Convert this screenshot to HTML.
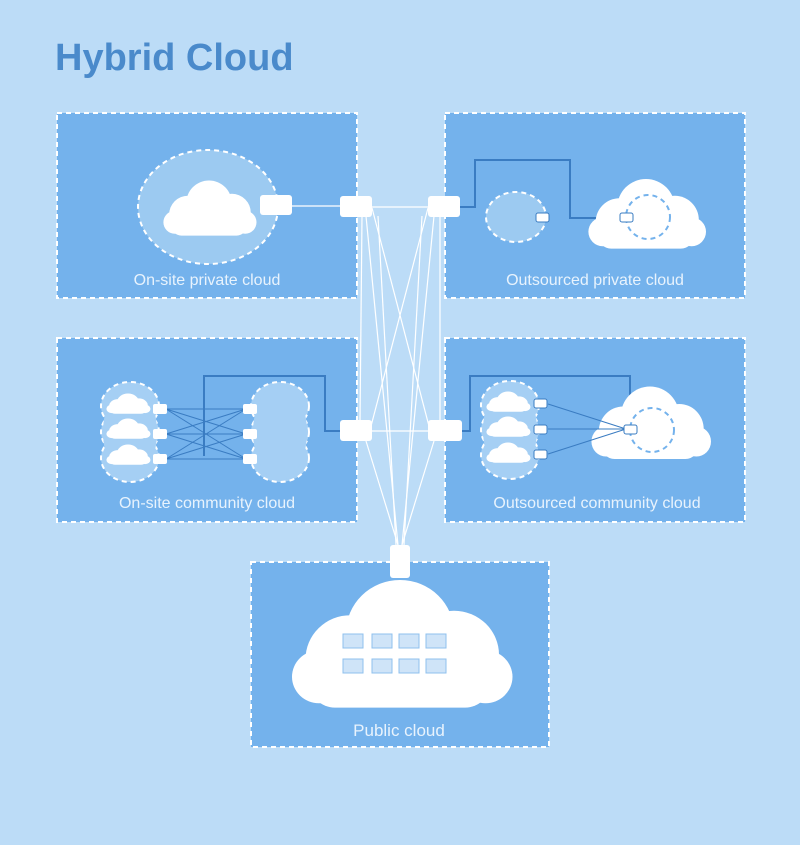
<!DOCTYPE html>
<html><head><meta charset="utf-8"><style>
html,body{margin:0;padding:0;background:#bcdcf7;}
svg{display:block}
text{font-family:"Liberation Sans",sans-serif;}
</style></head><body>
<svg width="800" height="845" viewBox="0 0 800 845" xmlns="http://www.w3.org/2000/svg">
<defs>
<g id="cl">
<circle cx="-22" cy="6" r="20"/><circle cx="0" cy="-6" r="24"/><circle cx="24" cy="4" r="20"/><circle cx="-36" cy="14" r="12"/><circle cx="38" cy="14" r="12"/><rect x="-40" y="6" width="80" height="22" rx="11"/>
</g>
</defs>
<rect width="800" height="845" fill="#bcdcf7"/>
<text x="55" y="70" font-size="38" font-weight="bold" fill="#4a8acb">Hybrid Cloud</text>
<g fill="#74b2ec" stroke="#fff" stroke-width="2" stroke-dasharray="5,4">
<rect x="57" y="113" width="300" height="185"/>
<rect x="445" y="113" width="300" height="185"/>
<rect x="57" y="338" width="300" height="184"/>
<rect x="445" y="338" width="300" height="184"/>
<rect x="251" y="562" width="298" height="185"/>
</g>
<g stroke="#fff" stroke-width="1.2" fill="none">
<line x1="292" y1="206" x2="340" y2="206"/>
<line x1="372" y1="207" x2="428" y2="207"/>
<line x1="372" y1="431" x2="428" y2="431"/>
<line x1="372" y1="208" x2="430" y2="430"/>
<line x1="428" y1="208" x2="370" y2="430"/>
<line x1="366" y1="216" x2="398" y2="545"/>
<line x1="434" y1="216" x2="402" y2="545"/>
<line x1="362" y1="216" x2="360" y2="421"/>
<line x1="440" y1="216" x2="440" y2="421"/>
<line x1="366" y1="441" x2="398" y2="545"/>
<line x1="434" y1="441" x2="402" y2="545"/>
<line x1="378" y1="216" x2="396" y2="545"/>
<line x1="422" y1="216" x2="404" y2="545"/>
</g>
<!-- P1 -->
<ellipse cx="208" cy="207" rx="70" ry="57" fill="#9ccaf1" stroke="#fff" stroke-width="2" stroke-dasharray="5,4"/>
<g fill="#fff" transform="translate(209,209) scale(0.95)"><use href="#cl"/></g>
<rect x="260" y="195" width="32" height="20" rx="3" fill="#fff"/>
<text x="207" y="285" font-size="16" fill="#e8f3fd" text-anchor="middle">On-site private cloud</text>
<!-- P2 -->
<path d="M460 207 H475 V160 H570 V218 H622" fill="none" stroke="#3a7cc2" stroke-width="2"/>
<ellipse cx="516" cy="217" rx="30" ry="25" fill="#9ccaf1" stroke="#fff" stroke-width="2" stroke-dasharray="5,4"/>
<g fill="#fff" transform="translate(646,215) scale(1.2,1.2)"><use href="#cl"/></g>
<circle cx="648" cy="217" r="22" fill="none" stroke="#74b2ec" stroke-width="2" stroke-dasharray="5,4"/>
<rect x="536" y="213" width="13" height="9" rx="2" fill="#fff" stroke="#3a7cc2"/>
<rect x="620" y="213" width="13" height="9" rx="2" fill="#fff" stroke="#3a7cc2"/>
<text x="595" y="285" font-size="16" fill="#e8f3fd" text-anchor="middle">Outsourced private cloud</text>
<!-- P3 -->
<path d="M204 456 V376 H325 V431 H340" fill="none" stroke="#3a7cc2" stroke-width="2"/>
<g fill="#a5cff4" stroke="#fff" stroke-width="2" stroke-dasharray="5,4">
<ellipse cx="130" cy="406" rx="29" ry="24"/><ellipse cx="130" cy="432" rx="29" ry="24"/><ellipse cx="130" cy="458" rx="29" ry="24"/>
<ellipse cx="280" cy="406" rx="29" ry="24"/><ellipse cx="280" cy="432" rx="29" ry="24"/><ellipse cx="280" cy="458" rx="29" ry="24"/>
</g>
<g fill="#a5cff4"><ellipse cx="130" cy="432" rx="27" ry="48"/><ellipse cx="280" cy="432" rx="27" ry="48"/></g>
<g fill="#fff"><g transform="translate(128,404) scale(0.45,0.35)"><use href="#cl"/></g><g transform="translate(128,429) scale(0.45,0.35)"><use href="#cl"/></g><g transform="translate(128,455) scale(0.45,0.35)"><use href="#cl"/></g></g>
<g stroke="#3a7cc2" stroke-width="1">
<line x1="166" y1="409" x2="246" y2="409"/><line x1="166" y1="409" x2="246" y2="434"/><line x1="166" y1="409" x2="246" y2="459"/>
<line x1="166" y1="434" x2="246" y2="409"/><line x1="166" y1="434" x2="246" y2="434"/><line x1="166" y1="434" x2="246" y2="459"/>
<line x1="166" y1="459" x2="246" y2="409"/><line x1="166" y1="459" x2="246" y2="434"/><line x1="166" y1="459" x2="246" y2="459"/>
</g>
<g fill="#fff"><rect x="153" y="404" width="14" height="10" rx="2"/><rect x="153" y="429" width="14" height="10" rx="2"/><rect x="153" y="454" width="14" height="10" rx="2"/>
<rect x="243" y="404" width="14" height="10" rx="2"/><rect x="243" y="429" width="14" height="10" rx="2"/><rect x="243" y="454" width="14" height="10" rx="2"/></g>
<text x="207" y="508" font-size="16" fill="#e8f3fd" text-anchor="middle">On-site community cloud</text>
<!-- P4 -->
<path d="M462 431 H470 V376 H630 V428" fill="none" stroke="#3a7cc2" stroke-width="2"/>
<g fill="#a5cff4" stroke="#fff" stroke-width="2" stroke-dasharray="5,4">
<ellipse cx="510" cy="405" rx="29" ry="24"/><ellipse cx="510" cy="430" rx="29" ry="24"/><ellipse cx="510" cy="455" rx="29" ry="24"/></g>
<ellipse cx="510" cy="430" rx="27" ry="47" fill="#a5cff4"/>
<g fill="#fff"><g transform="translate(508,402) scale(0.45,0.35)"><use href="#cl"/></g><g transform="translate(508,427) scale(0.45,0.35)"><use href="#cl"/></g><g transform="translate(508,453) scale(0.45,0.35)"><use href="#cl"/></g></g>
<g fill="#fff" transform="translate(650,424) scale(1.22,1.25)"><use href="#cl"/></g>
<circle cx="652" cy="430" r="22" fill="none" stroke="#74b2ec" stroke-width="2" stroke-dasharray="5,4"/>
<g stroke="#3a7cc2" stroke-width="1"><line x1="548" y1="404" x2="626" y2="429"/><line x1="548" y1="429" x2="626" y2="429"/><line x1="548" y1="454" x2="626" y2="429"/></g>
<g fill="#fff" stroke="#3a7cc2"><rect x="534" y="399" width="13" height="9" rx="2"/><rect x="534" y="425" width="13" height="9" rx="2"/><rect x="534" y="450" width="13" height="9" rx="2"/><rect x="624" y="425" width="13" height="9" rx="2"/></g>
<text x="597" y="508" font-size="16" fill="#e8f3fd" text-anchor="middle">Outsourced community cloud</text>
<!-- P5 -->
<g fill="#fff" transform="translate(400,646) scale(2.25,2.2)"><use href="#cl"/></g>
<g fill="#cfe4f8" stroke="#8fc0ee" stroke-width="1">
<rect x="343" y="634" width="20" height="14"/><rect x="372" y="634" width="20" height="14"/><rect x="399" y="634" width="20" height="14"/><rect x="426" y="634" width="20" height="14"/>
<rect x="343" y="659" width="20" height="14"/><rect x="372" y="659" width="20" height="14"/><rect x="399" y="659" width="20" height="14"/><rect x="426" y="659" width="20" height="14"/>
</g>
<text x="399" y="736" font-size="17" fill="#e8f3fd" text-anchor="middle">Public cloud</text>
<g fill="#fff"><rect x="340" y="196" width="32" height="21" rx="3"/><rect x="428" y="196" width="32" height="21" rx="3"/>
<rect x="340" y="420" width="32" height="21" rx="3"/><rect x="428" y="420" width="34" height="21" rx="3"/>
<rect x="390" y="545" width="20" height="33" rx="3"/></g>
</svg>
</body></html>
